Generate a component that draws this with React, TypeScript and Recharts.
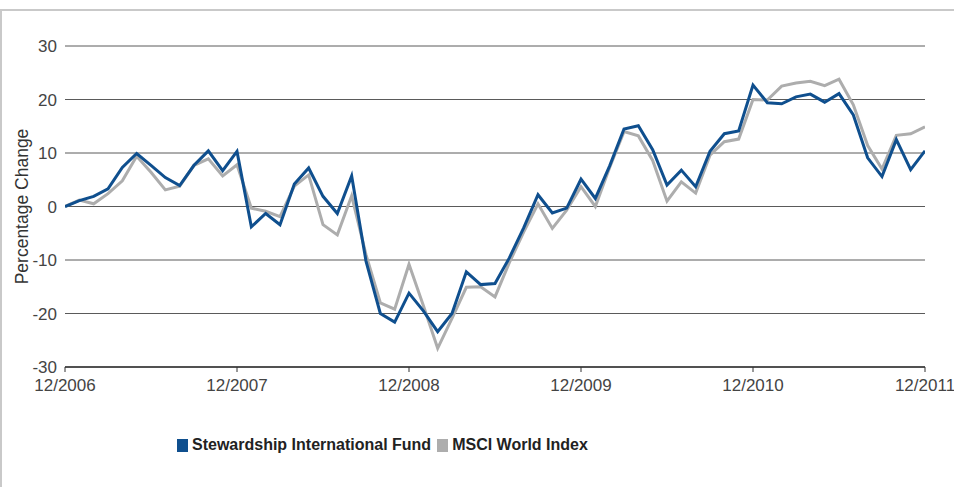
import React from "react";
import { LineChart, Line, XAxis, YAxis, CartesianGrid } from "recharts";

const tickLabels = ["12/2006", "12/2007", "12/2008", "12/2009", "12/2010", "12/2011"];
const xTicks = [0, 12, 24, 36, 48, 60];
const yTicks = [-30, -20, -10, 0, 10, 20, 30];

const fund = [
  0, 1.1, 1.9, 3.3, 7.3, 9.9, 7.7, 5.4, 3.9, 7.7, 10.4, 6.7,
  10.3, -3.8, -1.3, -3.4, 4.2, 7.2, 1.9, -1.3, 5.7, -10.2, -20, -21.6,
  -16.2, -19.5, -23.4, -20, -12.2, -14.6, -14.4, -9.6, -4, 2.2, -1.2, -0.3,
  5.1, 1.5, 7.6, 14.5, 15.1, 10.6, 4.0, 6.8, 3.7, 10.3, 13.6, 14.1,
  22.7, 19.4, 19.2, 20.5, 21.0, 19.5, 21.1, 17.1, 9.1, 5.6, 12.5, 6.9,
  10.4,
];

const msci = [
  0, 1.2, 0.5, 2.4, 4.8, 9.4, 6.4, 3.1, 3.8, 7.7, 8.9, 5.7,
  7.8, -0.3, -0.9, -1.9, 3.8, 5.9, -3.4, -5.3, 2.0, -9.0, -18, -19.2,
  -10.8, -18.5, -26.5, -20.9, -15.1, -15.0, -16.9, -10.5, -4.8, 0.5, -4.1, -0.7,
  3.7, 0, 7.3, 14.0, 13.2, 8.6, 1.0, 4.6, 2.5, 9.6, 12.1, 12.6,
  20.0, 19.9, 22.5, 23.1, 23.4, 22.6, 23.8, 19.0, 11.4, 7.0, 13.3, 13.6,
  14.9,
];

const data = fund.map((v, i) => ({ i, fund: v, msci: msci[i] }));

const BLUE = "#0f4f8e";
const GRAY = "#adadad";
const FONT = "'Liberation Sans', Arial, sans-serif";

export default function App() {
  return (
    <div style={{ position: "absolute", left: 0, top: 0, width: 954, height: 487, background: "#fff", overflow: "hidden" }}>
      <div style={{ position: "absolute", left: 0, top: 9, width: 954, height: 2, background: "#c9c9c9" }} />
      <div style={{ position: "absolute", left: 0, top: 9, width: 2, height: 478, background: "#c9c9c9" }} />
      <LineChart
        width={954}
        height={487}
        data={data}
        margin={{ top: 46, right: 29, left: 20, bottom: 90 }}
        style={{ position: "absolute", left: 0, top: 0, fontFamily: FONT }}
      >
        <CartesianGrid vertical={false} stroke="#5a5a5a" strokeWidth={1} />
        <XAxis
          dataKey="i"
          type="number"
          domain={[0, 60]}
          ticks={xTicks}
          tickFormatter={(v: number) => tickLabels[xTicks.indexOf(v)]}
          axisLine={{ stroke: "#333", strokeWidth: 1.5 }}
          tickLine={{ stroke: "#333" }}
          tickSize={5}
          tickMargin={7}
          height={30}
          interval={0}
          tick={{ fill: "#444", fontSize: 17, fontFamily: FONT }}
          allowDataOverflow
        />
        <YAxis
          type="number"
          domain={[-30, 30]}
          ticks={yTicks}
          axisLine={false}
          tickLine={false}
          width={45}
          interval={0}
          tick={{ fill: "#444", fontSize: 17, fontFamily: FONT }}
          label={{
            value: "Percentage Change",
            angle: -90,
            position: "insideLeft",
            offset: 0,
            dx: 2,
            style: { textAnchor: "middle", fill: "#333", fontSize: 17.5, fontFamily: FONT },
          }}
        />
        <Line type="linear" dataKey="msci" stroke={GRAY} strokeWidth={3} dot={false} isAnimationActive={false} />
        <Line type="linear" dataKey="fund" stroke={BLUE} strokeWidth={3} dot={false} isAnimationActive={false} />
      </LineChart>
      <div
        style={{
          position: "absolute",
          left: 177,
          top: 436,
          display: "flex",
          alignItems: "center",
          fontFamily: FONT,
          fontWeight: "bold",
          fontSize: 16,
          color: "#222",
          whiteSpace: "nowrap",
        }}
      >
        <span style={{ display: "inline-block", width: 11, height: 13, background: BLUE, marginRight: 4 }} />
        <span>Stewardship International Fund</span>
        <span style={{ display: "inline-block", width: 11, height: 13, background: GRAY, marginLeft: 6, marginRight: 4 }} />
        <span>MSCI World Index</span>
      </div>
    </div>
  );
}
